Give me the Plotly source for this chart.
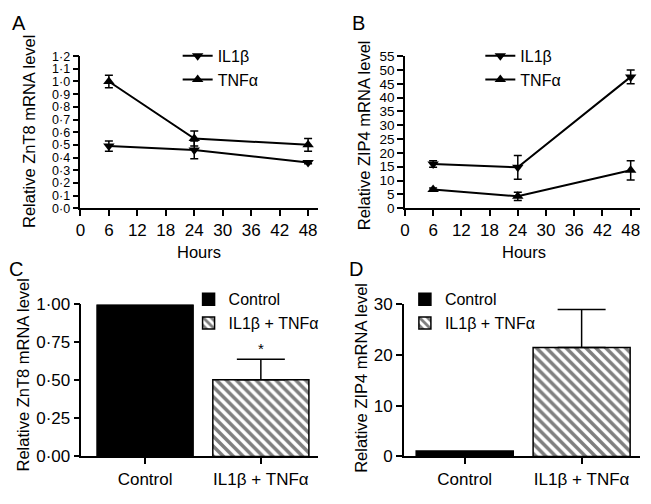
import plotly.graph_objects as go

W, H = 651, 504

# ---- data ----
hours = [6, 24, 48]
# Panel A: ZnT8
znt8_il1b = [0.49, 0.46, 0.36]
znt8_il1b_err = [0.04, 0.07, 0.01]
znt8_tnfa = [1.00, 0.55, 0.50]
znt8_tnfa_err = [0.05, 0.06, 0.05]
# Panel B: ZIP4
zip4_il1b = [16.0, 14.8, 47.5]
zip4_il1b_err = [1.2, 4.3, 2.5]
zip4_tnfa = [6.8, 4.3, 13.7]
zip4_tnfa_err = [0.5, 1.5, 3.5]
# Panels C, D
groups = ["Control", "IL1β + TNFα"]
znt8_bar = [1.0, 0.505]
znt8_bar_err = [0.0, 0.135]
zip4_bar = [1.1, 21.5]
zip4_bar_err = [0.0, 7.5]

hour_ticks = [0, 6, 12, 18, 24, 30, 36, 42, 48]
a_ticks = [i / 10 for i in range(13)]
a_ticktext = [f"{v:.1f}".replace(".", "·") for v in a_ticks]
b_ticks = list(range(0, 56, 5))
c_ticks = [0, 0.25, 0.5, 0.75, 1.0]
c_ticktext = [f"{v:.2f}".replace(".", "·") for v in c_ticks]
d_ticks = [0, 10, 20, 30]

FONT = "Liberation Sans, Arial, sans-serif"
FS_TICK = 17
FS_TICK_A = 12.5
FS_TICK_B = 13.5
FS_TITLE = 16.5
FS_LEG = 16

def px_x(p):
    return p / W

def px_y(p):
    return 1 - p / H

fig = go.Figure()

def line_trace(x, y, err, name, symbol, xa, ya, legend):
    return go.Scatter(
        x=x, y=y, name=name, mode="lines+markers",
        line=dict(color="black", width=2),
        marker=dict(symbol=symbol, size=10, color="black"),
        error_y=dict(type="data", array=err, visible=True, color="black",
                     thickness=1.5, width=4),
        xaxis=xa, yaxis=ya, legend=legend, cliponaxis=False,
    )

fig.add_trace(line_trace(hours, znt8_il1b, znt8_il1b_err, "IL1β", "triangle-down", "x", "y", "legend"))
fig.add_trace(line_trace(hours, znt8_tnfa, znt8_tnfa_err, "TNFα", "triangle-up", "x", "y", "legend"))
fig.add_trace(line_trace(hours, zip4_il1b, zip4_il1b_err, "IL1β", "triangle-down", "x2", "y2", "legend2"))
fig.add_trace(line_trace(hours, zip4_tnfa, zip4_tnfa_err, "TNFα", "triangle-up", "x2", "y2", "legend2"))

def bar_traces(vals, errs, xa, ya, legend):
    out = []
    out.append(go.Bar(
        x=[groups[0]], y=[vals[0]], name="Control", width=0.83,
        marker=dict(color="black", line=dict(color="black", width=1.5)),
        xaxis=xa, yaxis=ya, legend=legend,
    ))
    out.append(go.Bar(
        x=[groups[1]], y=[vals[1]], name="IL1β + TNFα", width=0.83,
        marker=dict(color="white", line=dict(color="black", width=1.5),
                    pattern=dict(shape="\\", fgcolor="black", bgcolor="white",
                                 size=7, solidity=0.5)),
        error_y=dict(type="data", symmetric=False, array=[errs[1]], arrayminus=[0],
                     visible=True, color="black", thickness=1.5, width=24),
        xaxis=xa, yaxis=ya, legend=legend,
    ))
    return out

for t in bar_traces(znt8_bar, znt8_bar_err, "x3", "y3", "legend3"):
    fig.add_trace(t)
for t in bar_traces(zip4_bar, zip4_bar_err, "x4", "y4", "legend4"):
    fig.add_trace(t)

axis_common = dict(showgrid=False, zeroline=False, showline=True, linecolor="black",
                   linewidth=1.5, ticks="outside", ticklen=6, tickwidth=1.5,
                   tickcolor="black")

def tf(size):
    return dict(tickfont=dict(size=size, color="black", family=FONT))

fig.update_layout(
    width=W, height=H, margin=dict(l=0, r=0, t=0, b=0),
    paper_bgcolor="white", plot_bgcolor="white",
    font=dict(family=FONT, size=FS_TICK, color="black"),
    barmode="overlay",
    xaxis=dict(domain=[px_x(76), px_x(315)], range=[0, 50], tickvals=hour_ticks,
               anchor="y", **axis_common, **tf(FS_TICK)),
    yaxis=dict(domain=[px_y(207), px_y(49)], range=[0, 1.2], tickvals=a_ticks,
               ticktext=a_ticktext, anchor="x", **axis_common, **tf(FS_TICK_A)),
    xaxis2=dict(domain=[px_x(403), px_x(640)], range=[0, 50], tickvals=hour_ticks,
                anchor="y2", **axis_common, **tf(FS_TICK)),
    yaxis2=dict(domain=[px_y(207), px_y(49)], range=[0, 55], tickvals=b_ticks,
                anchor="x2", **axis_common, **tf(FS_TICK_B)),
    xaxis3=dict(domain=[px_x(77), px_x(315)], range=[-0.55, 1.49], type="category",
                anchor="y3", **axis_common, **tf(FS_TICK)),
    yaxis3=dict(domain=[px_y(465), px_y(307)], range=[0, 1.0], tickvals=c_ticks,
                ticktext=c_ticktext, anchor="x3", **axis_common, **tf(FS_TICK)),
    xaxis4=dict(domain=[px_x(402), px_x(640)], range=[-0.52, 1.5], type="category",
                anchor="y4", **axis_common, **tf(FS_TICK)),
    yaxis4=dict(domain=[px_y(465), px_y(307)], range=[0, 30], tickvals=d_ticks,
                anchor="x4", **axis_common, **tf(FS_TICK)),
    showlegend=True,
)

leg_common = dict(bgcolor="rgba(0,0,0,0)", font=dict(size=FS_LEG, family=FONT, color="black"),
                  xanchor="left", yanchor="top", itemwidth=30, tracegroupgap=0,
                  borderwidth=0)
fig.update_layout(
    legend=dict(x=px_x(174), y=px_y(31), **leg_common),
    legend2=dict(x=px_x(479), y=px_y(31), **leg_common),
    legend3=dict(x=px_x(185), y=px_y(284), **leg_common),
    legend4=dict(x=px_x(403), y=px_y(284), **leg_common),
)

ann = []
def add_ann(text, x, y, size=FS_TITLE, angle=0, xanchor="center", yanchor="middle"):
    ann.append(dict(text=text, x=px_x(x), y=px_y(y), xref="paper", yref="paper",
                    showarrow=False, textangle=angle, xanchor=xanchor, yanchor=yanchor,
                    font=dict(size=size, family=FONT, color="black")))

add_ann("A", 14, 15, size=20)
add_ann("B", 356, 15, size=20)
add_ann("C", 11, 270, size=20)
add_ann("D", 354, 270, size=20)
add_ann("Relative ZnT8 mRNA level", 24, 127, angle=-90)
add_ann("Relative ZIP4 mRNA level", 362, 131, angle=-90)
add_ann("Relative ZnT8 mRNA level", 18, 380, angle=-90)
add_ann("Relative ZIP4 mRNA level", 358, 383, angle=-90)
add_ann("Hours", 195, 253)
add_ann("Hours", 523, 253)
fig.update_layout(annotations=ann)
# significance marker on the treated ZnT8 bar
fig.add_annotation(text="*", x=groups[1], y=znt8_bar[1] + znt8_bar_err[1], xref="x3", yref="y3",
                   showarrow=False, yanchor="bottom", yshift=0,
                   font=dict(size=15, family=FONT, color="black"))

fig.write_html("out.html", config={"displayModeBar": False},
               post_script="document.body.style.margin='0';")
